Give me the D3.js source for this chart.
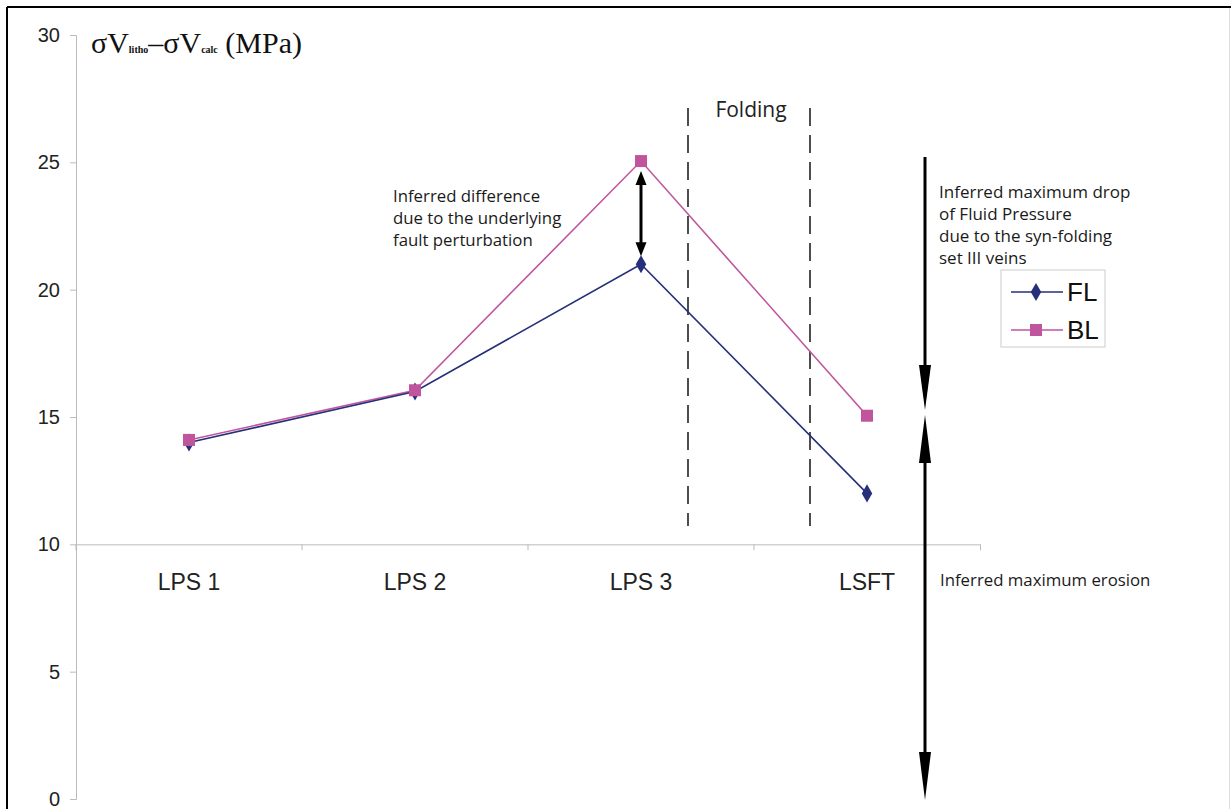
<!DOCTYPE html>
<html><head><meta charset="utf-8">
<script src="https://cdn.jsdelivr.net/npm/d3@7"></script>
<style>body{margin:0;background:#fff}svg{display:block}</style>
</head><body>
<svg id="c" width="1231" height="809"></svg>
<script>
const categories = ["LPS 1","LPS 2","LPS 3","LSFT"];
const flValues = [14, 16, 21, 12];
const blValues = [14.1, 16.05, 25.05, 15.05];
const yTicks = [0,5,10,15,20,25,30];
const seriesNames = ["FL","BL"];
const notesDrop = ["Inferred maximum drop","of Fluid Pressure","due to the syn-folding","set III veins"];
const notesDiff = ["Inferred difference","due to the underlying","fault perturbation"];

const svg = d3.select("#c");
const x0=76,x1=980,yTop=35,yBot=799;
const y = d3.scaleLinear().domain([0,30]).range([yBot,yTop]);
const x = d3.scaleBand().domain(categories).range([x0,x1]);
const cx = c => x(c)+x.bandwidth()/2;
const FLc="#262f7a", BLc="#c0559e";
const sans="'Open Sans', 'DejaVu Sans', sans-serif";
const arial="Arial, 'Liberation Sans', sans-serif";

// frame
svg.append("line").attr("x1",7).attr("x2",1231).attr("y1",7).attr("y2",7).attr("stroke","#000").attr("stroke-width",2);
svg.append("line").attr("x1",7).attr("x2",7).attr("y1",7).attr("y2",809).attr("stroke","#000").attr("stroke-width",2);
svg.append("line").attr("x1",1229.5).attr("x2",1229.5).attr("y1",8).attr("y2",809).attr("stroke","#ddd").attr("stroke-width",1);

// y axis
const yAxis = d3.axisLeft(y).tickValues(yTicks).tickSize(6).tickPadding(10);
const ga = svg.append("g").attr("transform",`translate(${x0},0)`).call(yAxis);
ga.select(".domain").attr("stroke","#bbb");
ga.selectAll(".tick line").attr("stroke","#bbb");
ga.selectAll(".tick text").attr("font-family",arial).attr("font-size",20).attr("fill","#222");

// x axis at value 10
const gx = svg.append("g").attr("transform",`translate(0,${y(10)})`)
  .call(d3.axisBottom(x).tickSize(0).tickPadding(29));
gx.select(".domain").attr("stroke","#bbb");
gx.selectAll(".tick text").attr("font-family",arial).attr("font-size",23).attr("fill","#222");
svg.append("g").selectAll("line").data(categories.concat(["__end"])).join("line")
  .attr("x1",(d,i)=> i<categories.length ? x(d) : x1+0.5)
  .attr("x2",(d,i)=> i<categories.length ? x(d) : x1+0.5)
  .attr("y1",y(10)).attr("y2",y(10)+6).attr("stroke","#bbb");

// axis title
const t = svg.append("text").attr("x",91).attr("y",53).attr("font-family","'Liberation Serif','Times New Roman',serif").attr("font-size",30).attr("fill","#111");
t.append("tspan").text("σV");
t.append("tspan").attr("font-size",10).attr("font-weight","bold").text("litho");
t.append("tspan").text("–σV");
t.append("tspan").attr("font-size",10).attr("font-weight","bold").text("calc");
t.append("tspan").text(" (MPa)");

// dashed folding lines
[688,810].forEach(xx=>{
  svg.append("line").attr("x1",xx).attr("x2",xx).attr("y1",108).attr("y2",526)
    .attr("stroke","#222").attr("stroke-width",1.6).attr("stroke-dasharray","18,9");
});
svg.append("text").attr("x",751).attr("y",117).attr("text-anchor","middle").attr("font-family",sans).attr("font-size",21).attr("fill","#222").text("Folding");

// lines
const line = d3.line().x((d,i)=>cx(categories[i])).y(d=>y(d));
svg.append("path").datum(blValues).attr("d",line).attr("fill","none").attr("stroke",BLc).attr("stroke-width",1.6);
svg.append("path").datum(flValues).attr("d",line).attr("fill","none").attr("stroke",FLc).attr("stroke-width",1.6);
svg.append("g").selectAll("path").data(flValues).join("path")
  .attr("d",d3.symbol(d3.symbolDiamond,95)).attr("fill",FLc)
  .attr("transform",(d,i)=>`translate(${cx(categories[i])},${y(d)})`);
svg.append("g").selectAll("rect").data(blValues).join("rect")
  .attr("x",(d,i)=>cx(categories[i])-6).attr("y",d=>y(d)-6).attr("width",12).attr("height",12).attr("fill",BLc);

function head(xx,tip,dir,len,w){
  const base = tip - dir*len;
  svg.append("path").attr("d",`M${xx-w/2},${base} L${xx+w/2},${base} L${xx},${tip} Z`).attr("fill","#000");
}
{
  const xx = cx("LPS 3");
  const top = y(blValues[2])+10, bot = y(flValues[2])-8;
  svg.append("line").attr("x1",xx).attr("x2",xx).attr("y1",top+10).attr("y2",bot-10).attr("stroke","#000").attr("stroke-width",3);
  head(xx,top,-1,14,11);
  head(xx,bot,1,14,11);
}
{
  const xx=925;
  svg.append("line").attr("x1",xx).attr("x2",xx).attr("y1",157).attr("y2",375).attr("stroke","#000").attr("stroke-width",3);
  head(xx,410,1,45,12);
  svg.append("line").attr("x1",xx).attr("x2",xx).attr("y1",455).attr("y2",755).attr("stroke","#000").attr("stroke-width",3);
  head(xx,415,-1,48,12);
  head(xx,800,1,48,12);
}

// notes
svg.append("g").selectAll("text").data(notesDiff).join("text")
  .attr("x",393).attr("y",(d,i)=>202+i*22).attr("font-family",sans).attr("font-size",16.8).attr("fill","#1a1a1a").text(d=>d);
svg.append("g").selectAll("text").data(notesDrop).join("text")
  .attr("x",939).attr("y",(d,i)=>198+i*22).attr("font-family",sans).attr("font-size",17).attr("fill","#1a1a1a").text(d=>d);
svg.append("text").attr("x",940).attr("y",586).attr("font-family",sans).attr("font-size",16.8).attr("fill","#1a1a1a").text("Inferred maximum erosion");

// legend
const lg = svg.append("g");
lg.append("rect").attr("x",1001).attr("y",270).attr("width",104).attr("height",77).attr("fill","#fff").attr("stroke","#ccc");
seriesNames.forEach((s,i)=>{
  const yy = 292+i*38, col = i===0?FLc:BLc;
  lg.append("line").attr("x1",1011).attr("x2",1063).attr("y1",yy).attr("y2",yy).attr("stroke",col).attr("stroke-width",1.5);
  if(i===0) lg.append("path").attr("d",d3.symbol(d3.symbolDiamond,95)).attr("fill",col).attr("transform",`translate(1036,${yy})`);
  else lg.append("rect").attr("x",1030).attr("y",yy-6).attr("width",12).attr("height",12).attr("fill",col);
  lg.append("text").attr("x",1067).attr("y",yy+9).attr("font-family",arial).attr("font-size",26).attr("fill","#111").text(s);
});
</script>
</body></html>
